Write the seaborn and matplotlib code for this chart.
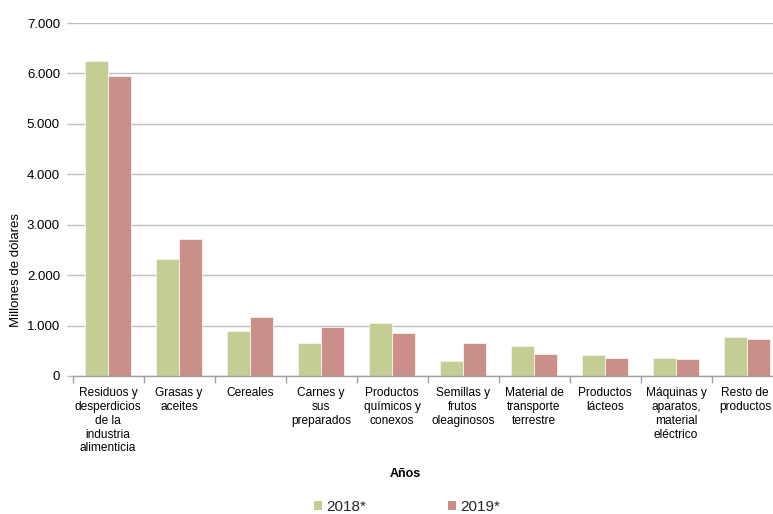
import matplotlib
matplotlib.use("Agg")
import matplotlib.pyplot as plt
from matplotlib.ticker import FuncFormatter, FixedLocator
from matplotlib.patches import Patch
from matplotlib.transforms import ScaledTranslation
import seaborn as sns
import pandas as pd
import numpy as np

categories = [
    "Residuos y\ndesperdicios\nde la\nindustria\nalimenticia",
    "Grasas y\naceites",
    "Cereales",
    "Carnes y\nsus\npreparados",
    "Productos\nquímicos y\nconexos",
    "Semillas y\nfrutos\noleaginosos",
    "Material de\ntransporte\nterrestre",
    "Productos\nlácteos",
    "Máquinas y\naparatos,\nmaterial\neléctrico",
    "Resto de\nproductos",
]
vals_2018 = [6250, 2326, 889, 656, 1048, 292, 596, 417, 358, 775]
vals_2019 = [5950, 2710, 1179, 980, 855, 650, 437, 352, 338, 742]
series = ["2018*", "2019*"]
colors = ["#C4CD94", "#C98F88"]

df = pd.DataFrame({
    "cat": categories * 2,
    "serie": [series[0]] * len(categories) + [series[1]] * len(categories),
    "val": vals_2018 + vals_2019,
})

sns.set_theme(style="white")
plt.rcParams["font.family"] = ["Liberation Sans", "DejaVu Sans"]

fig = plt.figure(figsize=(7.73, 5.14), dpi=100)
W, H = 773, 514
ax = fig.add_axes([72.5 / W, 138 / H, 710 / W, 353 / H])

sns.barplot(data=df, x="cat", y="val", hue="serie", palette=colors,
            width=0.65, ax=ax, edgecolor="#F4F4F0", linewidth=0.6,
            legend=False, saturation=1)

ax.set_ylim(0, 7000)
ax.set_xlim(-0.5, len(categories) - 0.5)
ax.set_yticks(np.arange(0, 7001, 1000))
ax.yaxis.set_major_formatter(FuncFormatter(lambda v, p: f"{int(v):,}".replace(",", ".")))
ax.grid(axis="y", color="#BFBFBF", linewidth=1.0)
ax.set_axisbelow(True)

for s in ["top", "right", "left"]:
    ax.spines[s].set_visible(False)
ax.spines["bottom"].set_color("#A0A0A0")
ax.spines["bottom"].set_linewidth(1.0)

ax.tick_params(axis="y", left=True, length=4, width=1, color="#BFBFBF",
               labelsize=9.5, labelcolor="#000000", pad=5)
ax.tick_params(axis="x", which="major", length=0, labelsize=8.6,
               labelcolor="#000000", pad=8)
ax.xaxis.set_minor_locator(FixedLocator(np.arange(-0.5, len(categories), 1.0)))
ax.tick_params(axis="x", which="minor", bottom=True, length=5, width=1, color="#A0A0A0")
labs = ax.get_xticklabels()
for lab in labs:
    lab.set_linespacing(1.2)
labs[-1].set_transform(labs[-1].get_transform() + ScaledTranslation(-2 / 100, 0, fig.dpi_scale_trans))

ax.set_ylabel("Millones de dólares", fontsize=9.5, color="#000000")
ax.yaxis.set_label_coords(-(72.5 - 22) / 710, (376 - 270) / 353)
ax.set_xlabel("Años", fontsize=9, fontweight="bold", color="#000000")
ax.xaxis.set_label_coords((405 - 72.5) / 710, -(468 - 376) / 353)

handles = [Patch(facecolor=c, edgecolor="none") for c in colors]
fig.legend(handles, series, loc="center", bbox_to_anchor=(407 / W, 7 / H),
           ncol=2, frameon=False, fontsize=11, handlelength=0.55,
           handleheight=0.55, handletextpad=0.25, columnspacing=5.35)

fig.savefig("out.png", dpi=100)
